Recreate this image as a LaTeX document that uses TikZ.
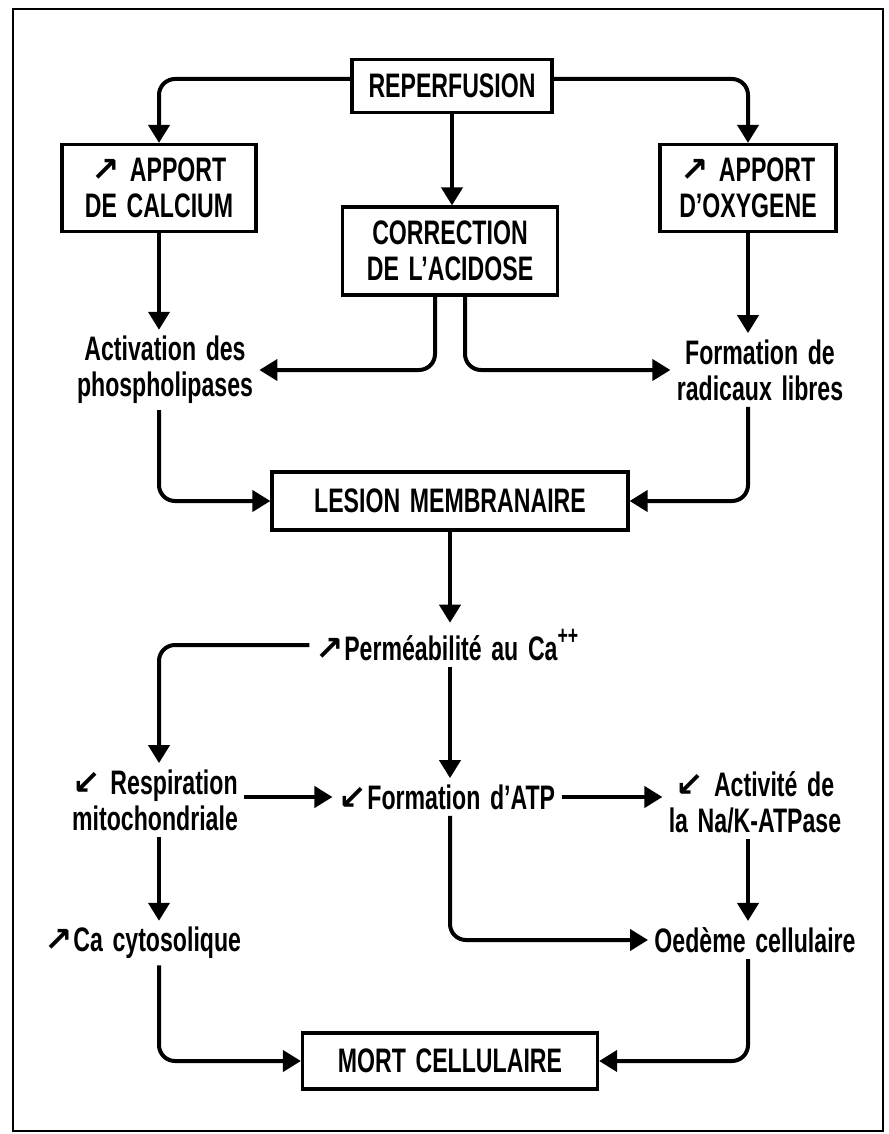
\documentclass[tikz,border=0pt]{standalone}
\usepackage{fontspec}
\setmainfont{Liberation Sans}[FakeStretch=0.68, WordSpace=1.5]
\newfontfamily\arrowfont{DejaVu Sans}
\usetikzlibrary{arrows.meta}

\newcommand{\hausse}{{\arrowfont\bfseries ↗}}
\newcommand{\baisse}{{\arrowfont\bfseries ↙}}

\begin{document}
\begin{tikzpicture}[x=0.5pt, y=-0.5pt,
    font=\fontsize{17}{18}\selectfont\bfseries,
    box/.style={draw, line width=1.6pt, align=center, inner sep=0pt},
    txt/.style={align=center, inner sep=3pt},
    arr/.style={line width=2pt, -{Triangle[length=9pt,width=10.5pt]}, rounded corners=8pt}]
    \useasboundingbox (0, 0) rectangle (888, 1134); % page
    \draw[line width=1.2pt] (13, 9) rectangle (883, 1131);

    \node[box, minimum width=100pt, minimum height=26.5pt] (reperf) at (452, 86) {REPERFUSION};
    \node[box, minimum width=97pt, minimum height=43.5pt] (calcium) at (159, 188) {\hausse\ APPORT\\DE CALCIUM};
    \node[box, minimum width=88pt, minimum height=43.5pt] (oxygen) at (748, 188) {\hausse\ APPORT\\D'OXYGENE};
    \node[box, minimum width=107.5pt, minimum height=44pt] (acidose) at (450, 251) {CORRECTION\\DE L'ACIDOSE};
    \node[txt] (activ) at (165, 370) {Activation des\\phospholipases};
    \node[txt] (radic) at (760, 370) {Formation de\\radicaux libres};
    \node[box, minimum width=178pt, minimum height=29pt] (lesion) at (450, 501) {LESION MEMBRANAIRE};
    \node[txt] (permea) at (447, 645) {\hausse Perméabilité au Ca\raisebox{0.9ex}{\fontsize{13}{13}\selectfont ++}};
    \node[txt] (respi) at (155, 800) {\baisse\ Respiration\\mitochondriale};
    \node[txt] (atp) at (447, 797) {\baisse Formation d'ATP};
    \node[txt] (activite) at (755, 802) {\baisse\ Activité de\\la Na/K-ATPase};
    \node[txt] (cyto) at (143, 943) {\hausse Ca cytosolique};
    \node[txt] (oedeme) at (755, 940) {Oedème cellulaire};
    \node[box, minimum width=147.5pt, minimum height=28pt] (mort) at (450, 1061) {MORT CELLULAIRE};

    \draw[arr] ([yshift=3.5pt]reperf.west) -| (calcium.north);
    \draw[arr] ([yshift=3.5pt]reperf.east) -| (oxygen.north);
    \draw[arr] (reperf.south) -- (reperf.south |- acidose.north);
    \draw[arr] (calcium) -- (calcium |- activ.north);
    \draw[arr] (oxygen) -- (oxygen |- radic.north);
    \draw[arr] ([xshift=-7.5pt]acidose.south) |- (activ.east);
    \draw[arr] ([xshift=7.5pt]acidose.south) |- (radic.west);
    \draw[arr] (calcium |- activ.south) |- (lesion.west);
    \draw[arr] (oxygen |- radic.south) |- (lesion.east);
    \draw[arr] (lesion) -- (lesion |- permea.north);
    \draw[arr] (permea.west) -| (calcium |- respi.north);
    \draw[arr] (lesion |- permea.south) -- (lesion |- atp.north);
    \draw[arr] (respi.east |- atp.west) -- (atp.west);
    \draw[arr] (atp.east) -- (atp.east -| activite.west);
    \draw[arr] (calcium |- respi.south) -- (calcium |- cyto.north);
    \draw[arr] (lesion |- atp.south) |- (oedeme.west);
    \draw[arr] (oxygen |- activite.south) -- (oxygen |- oedeme.north);
    \draw[arr] (calcium |- cyto.south) |- (mort.west);
    \draw[arr] (oxygen |- oedeme.south) |- (mort.east);
\end{tikzpicture}
\end{document}
